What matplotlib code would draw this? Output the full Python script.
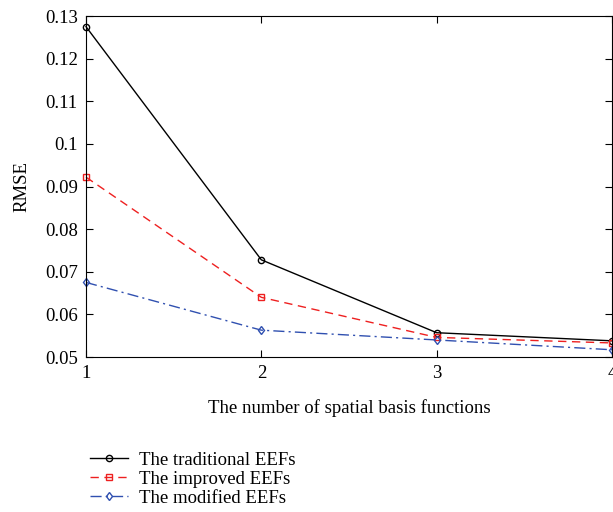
import matplotlib.pyplot as plt
import numpy as np

plt.rcParams['font.family'] = ['Liberation Serif', 'DejaVu Serif']
plt.rcParams['mathtext.fontset'] = 'stix'

n_basis = [1, 2, 3, 4]
rmse_traditional = [0.1275, 0.0728, 0.0557, 0.0538]
rmse_improved = [0.0922, 0.0640, 0.0546, 0.0533]
rmse_modified = [0.0675, 0.0563, 0.0540, 0.0517]

fig = plt.figure(figsize=(6.13, 5.12), dpi=100)
ax = fig.add_axes([0.1403, 0.3027, 0.8581, 0.6660])

ax.plot(n_basis, rmse_traditional, color='black', lw=1.0, marker='o', ms=4.5,
        mfc='none', mew=1.0, label='The traditional EEFs', clip_on=False)
ax.plot(n_basis, rmse_improved, color='#ee2020', lw=1.0, ls=(0, (6, 4)),
        marker='s', ms=4.5, mfc='none', mew=1.0, label='The improved EEFs',
        clip_on=False)
ax.plot(n_basis, rmse_modified, color='#3050b0', lw=1.0, ls=(0, (8, 3, 1.5, 3)),
        marker='d', ms=4.5, mfc='none', mew=1.0, label='The modified EEFs',
        clip_on=False)

ax.set_xlim(1, 4)
ax.set_ylim(0.05, 0.13)
ax.set_xticks([1, 2, 3, 4])
ax.set_yticks(np.arange(0.05, 0.1301, 0.01))
ax.set_yticklabels(['0.05', '0.06', '0.07', '0.08', '0.09', '0.1',
                    '0.11', '0.12', '0.13'])
ax.tick_params(direction='in', top=True, right=True, length=5, width=0.8,
               labelsize=13.5, pad=6)
for sp in ax.spines.values():
    sp.set_linewidth(0.8)

ax.set_xlabel('The number of spatial basis functions', fontsize=13.5, labelpad=12)
ax.set_ylabel('RMSE', fontsize=13.5, labelpad=10)

fig.legend(loc='upper left', bbox_to_anchor=(0.135, 0.132), frameon=False,
           fontsize=13.5, handlelength=2.0, handletextpad=0.6,
           labelspacing=0.1, borderaxespad=0)

fig.savefig('out.png', dpi=100)
